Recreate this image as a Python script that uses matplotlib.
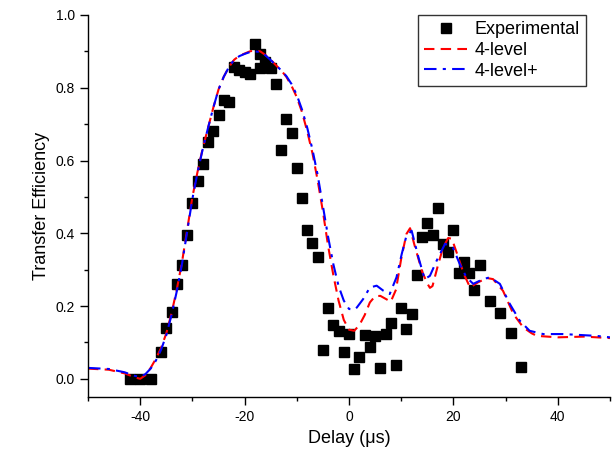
import numpy as np
import matplotlib
matplotlib.use("Agg")
import matplotlib.pyplot as plt
from matplotlib.ticker import MultipleLocator

plt.rcParams['font.family'] = ['Liberation Sans', 'DejaVu Sans']
plt.rcParams['axes.unicode_minus'] = False

# experimental points (delay in us, transfer efficiency)
exp_x = [-42, -40, -38, -36, -35, -34, -33, -32, -31, -30, -29, -28, -27, -26,
         -25, -24, -23, -22, -21, -20, -19, -18, -17, -17, -16, -15, -14, -13,
         -12, -11, -10, -9, -8, -7, -6, -5, -4, -3, -2, -1, 0, 1, 2, 3, 4, 5,
         6, 7, 8, 9, 10, 11, 12, 13, 14, 15, 16, 17, 18, 19, 20, 21, 22, 23,
         24, 25, 27, 29, 31, 33]
exp_y = [0.0, 0.0, 0.0, 0.074, 0.140, 0.185, 0.260, 0.313, 0.394, 0.483,
         0.545, 0.591, 0.651, 0.681, 0.724, 0.765, 0.762, 0.858, 0.849, 0.843,
         0.838, 0.919, 0.893, 0.855, 0.870, 0.855, 0.811, 0.630, 0.714, 0.676,
         0.580, 0.497, 0.409, 0.374, 0.334, 0.079, 0.194, 0.148, 0.131, 0.074,
         0.123, 0.027, 0.060, 0.121, 0.088, 0.118, 0.031, 0.123, 0.153, 0.038,
         0.195, 0.137, 0.178, 0.285, 0.390, 0.428, 0.396, 0.470, 0.371, 0.349,
         0.409, 0.292, 0.320, 0.292, 0.244, 0.313, 0.213, 0.181, 0.125, 0.033]

# 4-level model
lvl4_x = [-50, -46, -43, -41, -40, -39, -38, -37, -36, -35, -34, -33, -32, -31,
          -30, -29, -28, -27, -26, -25, -24, -23, -22, -21, -20, -19, -18, -17,
          -16, -15, -14, -13, -12, -11, -10, -9, -8, -7, -6, -5, -4, -3, -2,
          -1, 0, 1, 2, 3, 4, 5, 6, 7, 8, 9, 10, 11, 11.7, 12.5, 13, 14, 15,
          15.5, 16, 17, 18, 19, 19.7, 20.6, 22, 23.2, 24.7, 26.4, 27.6, 29.5,
          31.5, 33.4, 35, 36, 40, 45, 50]
lvl4_y = [0.028, 0.025, 0.015, 0.004, 0.000, 0.010, 0.030, 0.055, 0.085, 0.125,
          0.180, 0.245, 0.320, 0.410, 0.500, 0.570, 0.635, 0.690, 0.745, 0.795,
          0.830, 0.857, 0.877, 0.888, 0.894, 0.900, 0.903, 0.900, 0.890, 0.877,
          0.862, 0.848, 0.830, 0.805, 0.774, 0.733, 0.680, 0.620, 0.545, 0.460,
          0.365, 0.285, 0.215, 0.162, 0.135, 0.132, 0.148, 0.175, 0.210, 0.227,
          0.228, 0.220, 0.212, 0.245, 0.330, 0.398, 0.414, 0.370, 0.345, 0.295,
          0.262, 0.250, 0.255, 0.310, 0.360, 0.387, 0.385, 0.348, 0.288, 0.251,
          0.265, 0.277, 0.274, 0.242, 0.178, 0.141, 0.125, 0.118, 0.114, 0.116,
          0.112]

# 4-level+ model
lvl4p_x = [-50, -46, -43, -41, -40, -39, -38, -37, -36, -35, -34, -33, -32, -31,
           -30, -29, -28, -27, -26, -25, -24, -23, -22, -21, -20, -19, -18, -17,
           -16, -15, -14, -13, -12, -11, -10, -9, -8, -7, -6, -5, -4, -3, -2,
           -1, 0, 1, 1.5, 2.7, 4, 5.3, 6.6, 7.8, 9.1, 10.1, 11, 12, 13.3, 14.5,
           15.5, 16.8, 18.4, 19.9, 21.2, 22.5, 23.8, 25.7, 27, 28.9, 30.8, 32.7,
           34.6, 37.2, 41, 47.4, 50]
lvl4p_y = [0.030, 0.027, 0.018, 0.008, 0.005, 0.013, 0.028, 0.050, 0.080, 0.120,
           0.175, 0.240, 0.315, 0.405, 0.495, 0.568, 0.633, 0.690, 0.745, 0.795,
           0.830, 0.857, 0.877, 0.887, 0.893, 0.898, 0.900, 0.898, 0.889, 0.876,
           0.862, 0.848, 0.832, 0.810, 0.780, 0.740, 0.690, 0.630, 0.560, 0.475,
           0.390, 0.315, 0.255, 0.215, 0.192, 0.190, 0.196, 0.219, 0.251, 0.256,
           0.242, 0.233, 0.279, 0.343, 0.393, 0.407, 0.334, 0.274, 0.283, 0.325,
           0.371, 0.361, 0.316, 0.279, 0.261, 0.274, 0.279, 0.261, 0.206, 0.160,
           0.132, 0.123, 0.123, 0.118, 0.114]

fig = plt.figure(figsize=(6.13, 4.57), dpi=100)
ax = fig.add_axes([88 / 613, 60 / 457, 522 / 613, 382 / 457])

ax.plot(exp_x, exp_y, 's', color='black', markersize=7.5, label='Experimental')
ax.plot(lvl4_x, lvl4_y, color='red', lw=1.5, linestyle=(0, (5, 3)), label='4-level')
ax.plot(lvl4p_x, lvl4p_y, color='blue', lw=1.5, linestyle=(0, (6, 3, 1.5, 3)),
        label='4-level+')

ax.set_xlim(-50, 50)
ax.set_ylim(-0.05, 1.0)
ax.xaxis.set_major_locator(MultipleLocator(20))
ax.xaxis.set_minor_locator(MultipleLocator(10))
ax.yaxis.set_minor_locator(MultipleLocator(0.1))
ax.set_yticks([0.0, 0.2, 0.4, 0.6, 0.8, 1.0])
ax.set_yticklabels(['0.0', '0.2', '0.4', '0.6', '0.8', '1.0'])
ax.tick_params(which='major', direction='out', length=6, width=1, labelsize=10)
ax.tick_params(which='minor', direction='out', length=3, width=1)
for s in ['top', 'right']:
    ax.spines[s].set_visible(False)
for s in ['left', 'bottom']:
    ax.spines[s].set_linewidth(1)

ax.set_xlabel('Delay (\u03bcs)', fontsize=13)
ax.set_ylabel('Transfer Efficiency', fontsize=13)

leg = ax.legend(loc='upper right', bbox_to_anchor=(0.954, 1.0), borderaxespad=0,
                fontsize=13, frameon=True, fancybox=False, edgecolor='black',
                handlelength=2.4, handletextpad=0.4, labelspacing=0.2,
                borderpad=0.35)
leg.get_frame().set_linewidth(1)

fig.savefig('out.png', dpi=100)
